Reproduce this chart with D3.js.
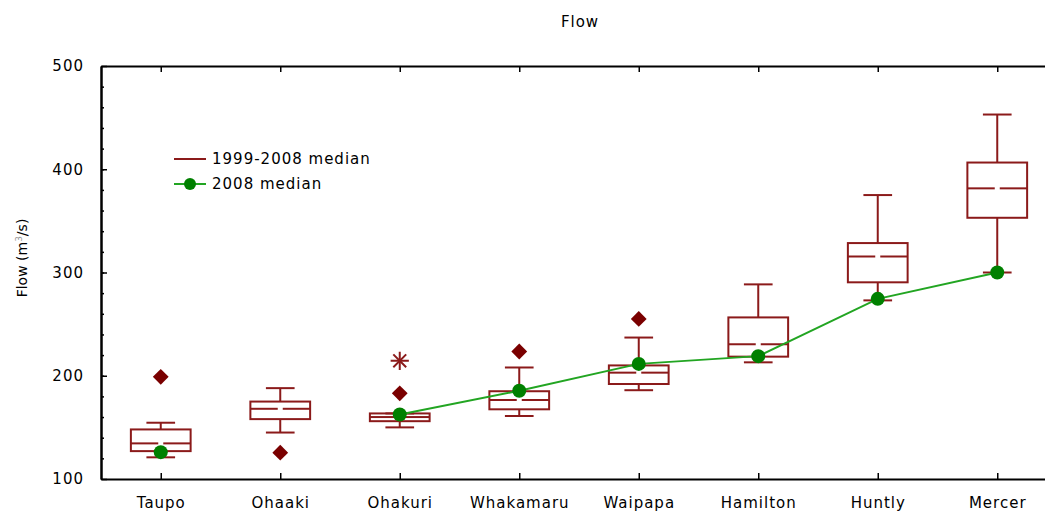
<!DOCTYPE html>
<html>
<head>
<meta charset="utf-8">
<script src="https://cdn.jsdelivr.net/npm/d3@7"></script>
<style>
  body { margin: 0; background: #fff; }
  text { font-family: "DejaVu Sans", sans-serif; fill: #000; }
</style>
</head>
<body>
<svg id="chart" width="1045" height="523"></svg>
<script>
// sites along the river
var sites = ["Taupo", "Ohaaki", "Ohakuri", "Whakamaru", "Waipapa", "Hamilton", "Huntly", "Mercer"];
// 1999-2008 box stats
var whiskerLow = [121, 145, 150, 161, 186, 213, 273, 300];
var q1 = [127, 158, 156, 167.5, 192, 218.5, 290.5, 353];
var medians = [134.5, 168, 160, 176.5, 203, 230.5, 315.5, 381.5];
var q3 = [148, 175, 163.5, 185, 210, 256.5, 328.5, 406.5];
var whiskerHigh = [154.5, 188, 163.5, 208, 237, 288.5, 375, 453];
// outliers [site index, value]
var outliers = [[0, 199], [1, 125.5], [2, 183], [3, 223.5], [4, 255]];
var extremes = [[2, 214.5]];
// 2008 medians (null = none)
var median2008 = [126, null, 162.5, 185.5, 211.5, 219, 274.5, 300];
var yTicks = [100, 200, 300, 400, 500];

var red = "#8b1a1a", darkRed = "#7a0000", green = "#008000", lineGreen = "#22a522";

var svg = d3.select("#chart");
var plotLeft = 101, plotTop = 66, plotBottom = 479, plotRight = 1057;

var x = d3.scalePoint().domain(sites).range([plotLeft, plotRight]).padding(0.5);
var y = d3.scaleLinear().domain([100, 500]).range([plotBottom, plotTop]);
var boxW = x.step() * 0.5, capW = x.step() * 0.24;

svg.append("text").attr("x", 580).attr("y", 27).attr("text-anchor", "middle")
  .attr("font-size", "15px").attr("letter-spacing", "1px").text("Flow");

// axes
var fmt = function (g) {
  g.selectAll("path").attr("stroke", "#000").attr("stroke-width", 2);
  g.selectAll("line").attr("stroke", "#000").attr("stroke-width", 1.5);
  g.selectAll("text").attr("font-size", "15px").attr("letter-spacing", "1px")
    .attr("font-family", "DejaVu Sans, sans-serif");
};
svg.append("g").attr("transform", "translate(" + plotLeft + ",0)")
  .call(d3.axisLeft(y).tickValues(yTicks).tickSize(-6).tickSizeOuter(0).tickPadding(17))
  .call(fmt);
svg.append("g").attr("transform", "translate(" + plotLeft + ",0)")
  .call(d3.axisLeft(y).tickValues(d3.range(120, 500, 20)).tickSize(-3).tickSizeOuter(0).tickFormat(""))
  .call(fmt);
svg.append("g").attr("transform", "translate(0," + plotBottom + ")")
  .call(d3.axisBottom(x).tickSize(-6).tickSizeOuter(0).tickPadding(18))
  .call(fmt);
svg.append("g").attr("transform", "translate(0," + plotTop + ")")
  .call(d3.axisTop(x).tickSize(-6).tickSizeOuter(0).tickFormat(""))
  .call(fmt);

svg.append("text").attr("transform", "translate(27,258) rotate(-90)")
  .attr("text-anchor", "middle").attr("font-size", "14px")
  .html('Flow (m<tspan font-size="9px" dy="-5" fill="#999">3</tspan><tspan dy="5">/s)</tspan>');

// boxes
var boxes = svg.append("g").attr("fill", "none").attr("stroke", red).attr("stroke-width", 2);
sites.forEach(function (s, i) {
  var cx = x(s);
  var g = boxes.append("g");
  g.append("line").attr("x1", cx).attr("x2", cx).attr("y1", y(whiskerHigh[i])).attr("y2", y(q3[i]));
  g.append("line").attr("x1", cx).attr("x2", cx).attr("y1", y(q1[i])).attr("y2", y(whiskerLow[i]));
  g.append("line").attr("x1", cx - capW / 2).attr("x2", cx + capW / 2).attr("y1", y(whiskerHigh[i])).attr("y2", y(whiskerHigh[i]));
  g.append("line").attr("x1", cx - capW / 2).attr("x2", cx + capW / 2).attr("y1", y(whiskerLow[i])).attr("y2", y(whiskerLow[i]));
  g.append("rect").attr("x", cx - boxW / 2).attr("width", boxW)
    .attr("y", y(q3[i])).attr("height", y(q1[i]) - y(q3[i]));
  g.append("line").attr("x1", cx - boxW / 2).attr("x2", cx - 2.5).attr("y1", y(medians[i])).attr("y2", y(medians[i]));
  g.append("line").attr("x1", cx + 2.5).attr("x2", cx + boxW / 2).attr("y1", y(medians[i])).attr("y2", y(medians[i]));
});

// outliers: square turned 45 degrees
svg.append("g").selectAll("path").data(outliers).join("path")
  .attr("transform", function (d) { return "translate(" + x(sites[d[0]]) + "," + y(d[1]) + ") rotate(45)"; })
  .attr("d", d3.symbol(d3.symbolSquare, 125))
  .attr("fill", darkRed);

// extreme value: eight-armed star
var ext = svg.append("g").attr("fill", "none").attr("stroke", red).attr("stroke-width", 2);
[0, 45].forEach(function (rot) {
  ext.append("g").selectAll("path").data(extremes).join("path")
    .attr("transform", function (d) { return "translate(" + x(sites[d[0]]) + "," + y(d[1]) + ") rotate(" + rot + ")"; })
    .attr("d", d3.symbol(d3.symbolTimes, 110));
});

// 2008 median line
var line = d3.line()
  .defined(function (d) { return d != null; })
  .x(function (d, i) { return x(sites[i]); })
  .y(function (d) { return y(d); });
svg.append("path").datum(median2008).attr("d", line)
  .attr("fill", "none").attr("stroke", lineGreen).attr("stroke-width", 2);
svg.append("g").selectAll("circle")
  .data(median2008.map(function (v, i) { return [i, v]; }).filter(function (d) { return d[1] != null; }))
  .join("circle")
  .attr("cx", function (d) { return x(sites[d[0]]); })
  .attr("cy", function (d) { return y(d[1]); })
  .attr("r", 7).attr("fill", green);

// legend
var lg = svg.append("g").attr("transform", "translate(174,0)");
lg.append("line").attr("x1", 0).attr("x2", 32).attr("y1", 159).attr("y2", 159)
  .attr("stroke", red).attr("stroke-width", 2);
lg.append("text").attr("x", 38).attr("y", 164).attr("font-size", "15px").attr("letter-spacing", "1px")
  .text("1999-2008 median");
lg.append("line").attr("x1", 0).attr("x2", 32).attr("y1", 184).attr("y2", 184)
  .attr("stroke", lineGreen).attr("stroke-width", 2);
lg.append("circle").attr("cx", 16).attr("cy", 184).attr("r", 6).attr("fill", green);
lg.append("text").attr("x", 38).attr("y", 189).attr("font-size", "15px").attr("letter-spacing", "1px")
  .text("2008 median");
</script>
</body>
</html>
